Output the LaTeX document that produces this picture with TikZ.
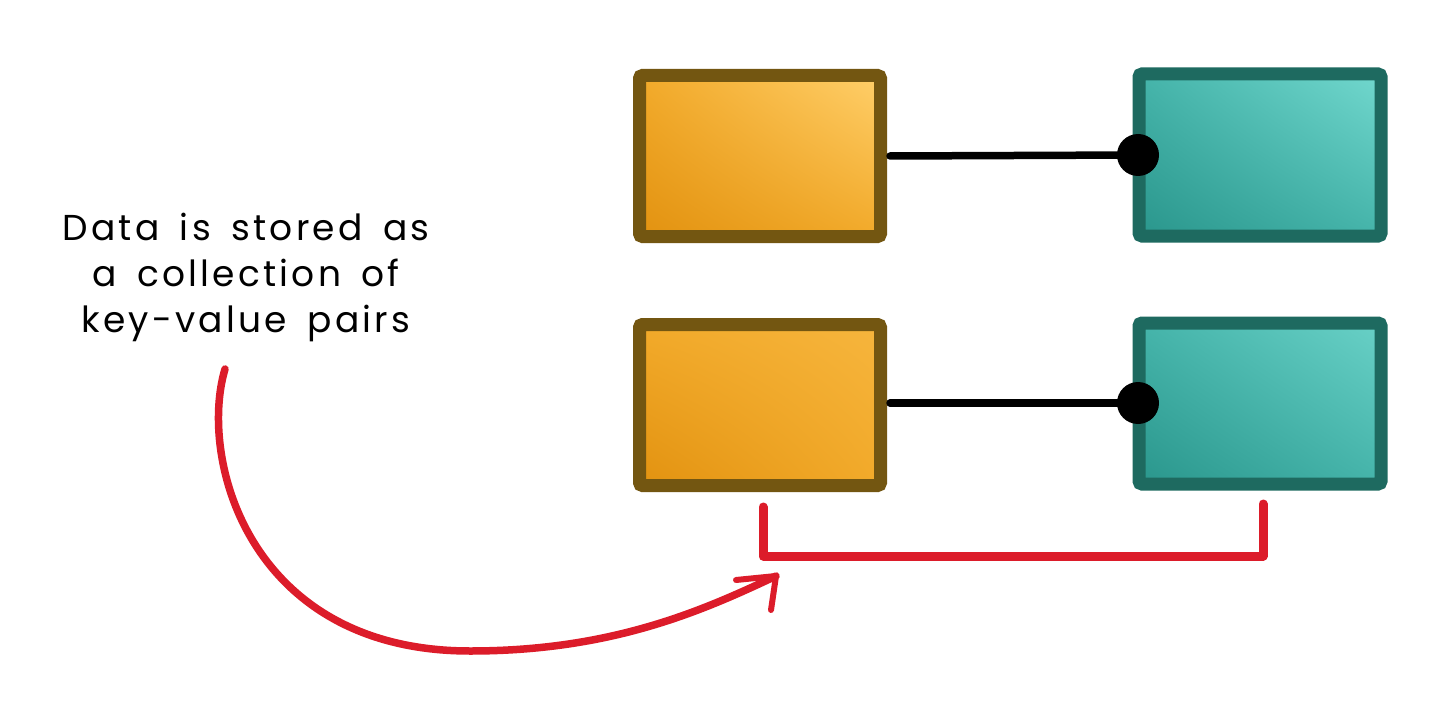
\documentclass[tikz,border=0pt]{standalone}
\usepackage{fontspec}
\setmainfont{Poppins}[LetterSpace=9,WordSpace=1.6]
\usetikzlibrary{shadings}
\begin{document}
\begin{tikzpicture}[x=1pt,y=-1pt,
  obox/.style={draw=obrd,line width=13pt,rounded corners=3pt},
  tbox/.style={draw=tbrd,line width=13pt,rounded corners=3pt},
  link/.style={line width=7.5pt,black,line cap=round},
  redl/.style={draw=redc,line width=9pt,line cap=round,line join=round},
  lbl/.style={font=\fontsize{36}{46}\selectfont,align=center,text=black}]
\definecolor{obrd}{HTML}{735611}
\definecolor{tbrd}{HTML}{1E6A60}
\definecolor{olo}{HTML}{E29210}
\definecolor{ohi}{HTML}{FFCF6A}
\definecolor{omid}{HTML}{F2AA2A}
\definecolor{tlo}{HTML}{2A968C}
\definecolor{thi}{HTML}{72D8CE}
\definecolor{tmid}{HTML}{45B4AA}
\definecolor{redc}{HTML}{DC1C2A}
\useasboundingbox (0,0) rectangle (1456,722);
\fill[white] (0,0) rectangle (1456,722);
% key boxes
\shade[lower left=olo,upper right=ohi,lower right=omid,upper left=omid] (640,76) rectangle (880,237);
\shade[lower left=olo,upper right=omid!70!ohi,lower right=omid,upper left=omid] (640,325) rectangle (880,486);
\node[obox,minimum width=241pt,minimum height=161pt,inner sep=0pt] (k1) at (760,156) {};
\node[obox,minimum width=241pt,minimum height=161pt,inner sep=0pt] (k2) at (760,405) {};
% value boxes
\shade[lower left=tlo,upper right=thi,lower right=tmid,upper left=tmid] (1139,74) rectangle (1381,236);
\shade[lower left=tlo,upper right=thi!80!tmid,lower right=tmid,upper left=tmid] (1139,323) rectangle (1381,484);
\node[tbox,minimum width=242pt,minimum height=162pt,inner sep=0pt] (v1) at (1260,155) {};
\node[tbox,minimum width=242pt,minimum height=161pt,inner sep=0pt] (v2) at (1260,403.5) {};
% links
\coordinate (d1) at (1138,155);
\coordinate (d2) at (1138,403);
\draw[link] (k1.east) ++(3,0) -- (d1);
\draw[link] (k2.east) ++(3,-2) -- (d2);
\fill[black] (d1) circle (21pt);
\fill[black] (d2) circle (21pt);
% label
\node[lbl] (txt) at (246,277) {Data is stored as\\a collection of\\key-value pairs};
% bracket
\coordinate (b1) at (763,507);
\coordinate (b2) at (763,556);
\coordinate (b3) at (1263,556);
\coordinate (b4) at (1263,504);
\draw[redl] (b1) -- (b2) -- (b3) -- (b4);
% curved arrow
\coordinate (a0) at (225,369);
\coordinate (a1) at (776,576);
\coordinate (h1) at (736,580);
\coordinate (h2) at (771,610);
\draw[redc,line width=7.5pt,line cap=round] (a0) .. controls (198,460) and (250,651) .. (470,651)
  .. controls (610,651) and (700,612) .. (a1);
\draw[redl,line width=6pt] (h1) -- (a1) -- (h2);
\end{tikzpicture}
\end{document}
